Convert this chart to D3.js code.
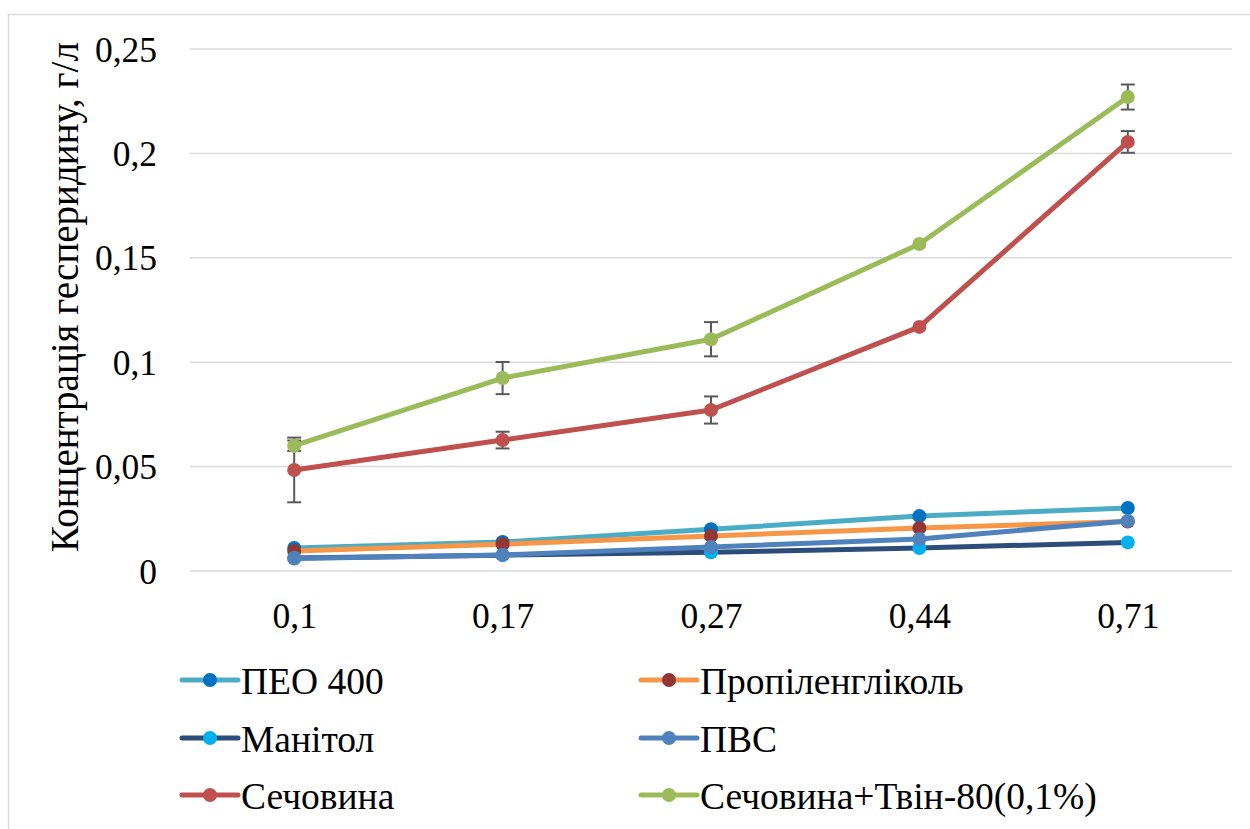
<!DOCTYPE html>
<html><head><meta charset="utf-8">
<script src="https://cdn.jsdelivr.net/npm/d3@7"></script>
<style>
html,body{margin:0;padding:0;background:#fff;}
svg{display:block;}
</style></head>
<body>
<svg id="chart" width="1250" height="829"></svg>
<script>
// ---- data ----
const categories = ["0,1", "0,17", "0,27", "0,44", "0,71"];
const yTicks = [0, 0.05, 0.1, 0.15, 0.2, 0.25];
const yTickLabels = ["0", "0,05", "0,1", "0,15", "0,2", "0,25"];
const seriesNames = ["ПЕО 400", "Пропіленгліколь", "Манітол", "ПВС", "Сечовина", "Сечовина+Твін-80(0,1%)"];
const peo400 = [0.0110, 0.0139, 0.0200, 0.0263, 0.0302];
const propylenglikol = [0.0096, 0.0128, 0.0168, 0.0206, 0.0237];
const manitol = [0.0062, 0.0076, 0.0090, 0.0110, 0.0137];
const pvs = [0.0060, 0.0077, 0.0115, 0.0153, 0.0240];
const sechovyna = [0.0484, 0.0627, 0.0771, 0.1169, 0.2055];
const sechovynaTvin = [0.0600, 0.0924, 0.1110, 0.1566, 0.2270];
const sechovynaErr = [0.0155, 0.0040, 0.0065, 0, 0.0052];
const sechovynaTvinErr = [0.0025, 0.0077, 0.0082, 0, 0.0060];
const lineColors = ["#4BACC6", "#F79646", "#2C4D7A", "#4F81BD", "#C0504D", "#9BBB59"];
const markerColors = ["#0070C0", "#943634", "#00B0F0", "#4F81BD", "#C0504D", "#9BBB59"];
const yTitle = "Концентрація гесперидину, г/л";

const seriesValues = [peo400, propylenglikol, manitol, pvs, sechovyna, sechovynaTvin];
const seriesErrors = [null, null, null, null, sechovynaErr, sechovynaTvinErr];

const FONT = "Liberation Serif";

// ---- layout ----
const svg = d3.select("#chart");
const plot = {left: 190, right: 1232, top: 49, bottom: 571};

// chart border
svg.append("rect").attr("x", 8.5).attr("y", 14.5).attr("width", 1260).attr("height", 830)
  .attr("fill", "none").attr("stroke", "#D9D9D9").attr("stroke-width", 1.5);

const x = d3.scalePoint().domain(categories).range([plot.left, plot.right]).padding(0.5);
const y = d3.scaleLinear().domain([0, 0.25]).range([plot.bottom, plot.top]);

// gridlines
svg.append("g").selectAll("line").data(yTicks).join("line")
  .attr("x1", plot.left).attr("x2", plot.right)
  .attr("y1", d => y(d)).attr("y2", d => y(d))
  .attr("stroke", "#D9D9D9").attr("stroke-width", 1.5);

// y axis labels
const yAxis = d3.axisLeft(y).tickValues(yTicks).tickSize(0).tickPadding(0)
  .tickFormat((d, i) => yTickLabels[i]);
const gy = svg.append("g").attr("transform", `translate(157,0)`).call(yAxis);
gy.select(".domain").remove();
gy.attr("font-family", FONT).attr("font-size", 35.5);
gy.selectAll("text").style("font-size", "35.5px").style("font-family", FONT).attr("fill", "#000")
  .attr("dy", "0.34em");

// x axis labels
const xAxis = d3.axisBottom(x).tickSize(0).tickPadding(0);
const gx = svg.append("g").attr("transform", `translate(0,603)`).call(xAxis);
gx.select(".domain").remove();
gx.attr("font-family", FONT).attr("font-size", 35.5);
gx.selectAll("text").style("font-size", "35.5px").style("font-family", FONT).attr("fill", "#000")
  .attr("dy", "0.71em");

// y title
svg.append("text").attr("transform", "translate(78,297) rotate(-90)")
  .attr("text-anchor", "middle").style("font-size", "39px").style("font-family", FONT).attr("fill", "#000")
  .text(yTitle);

// series
const line = d3.line().x((d, i) => x(categories[i])).y(d => y(d));
seriesValues.forEach((vals, s) => {
  const g = svg.append("g");
  g.append("path").datum(vals).attr("d", line).attr("fill", "none")
    .attr("stroke", lineColors[s]).attr("stroke-width", 5)
    .attr("stroke-linejoin", "round").attr("stroke-linecap", "round");
  const err = seriesErrors[s];
  if (err) {
    const eg = g.append("g").attr("stroke", "#595959").attr("stroke-width", 2);
    vals.forEach((v, i) => {
      if (!err[i]) return;
      const cx = x(categories[i]);
      eg.append("line").attr("x1", cx).attr("x2", cx).attr("y1", y(v - err[i])).attr("y2", y(v + err[i]));
      eg.append("line").attr("x1", cx - 7).attr("x2", cx + 7).attr("y1", y(v - err[i])).attr("y2", y(v - err[i]));
      eg.append("line").attr("x1", cx - 7).attr("x2", cx + 7).attr("y1", y(v + err[i])).attr("y2", y(v + err[i]));
    });
  }
  g.selectAll("circle").data(vals).join("circle")
    .attr("cx", (d, i) => x(categories[i])).attr("cy", d => y(d)).attr("r", 7)
    .attr("fill", markerColors[s]);
});

// legend
const legendPos = [
  {x: 182, y: 680}, {x: 641, y: 680},
  {x: 182, y: 738}, {x: 641, y: 738},
  {x: 182, y: 795}, {x: 641, y: 795}
];
seriesNames.forEach((name, s) => {
  const p = legendPos[s];
  const g = svg.append("g").attr("transform", `translate(${p.x},${p.y})`);
  g.append("line").attr("x1", 0).attr("x2", 56).attr("y1", 0).attr("y2", 0)
    .attr("stroke", lineColors[s]).attr("stroke-width", 5).attr("stroke-linecap", "round");
  g.append("circle").attr("cx", 28).attr("cy", 0).attr("r", 7).attr("fill", markerColors[s]);
  g.append("text").attr("x", 59).attr("y", 14).style("font-size", "37.5px").style("font-family", FONT)
    .attr("fill", "#000").text(name);
});
</script>
</body></html>
